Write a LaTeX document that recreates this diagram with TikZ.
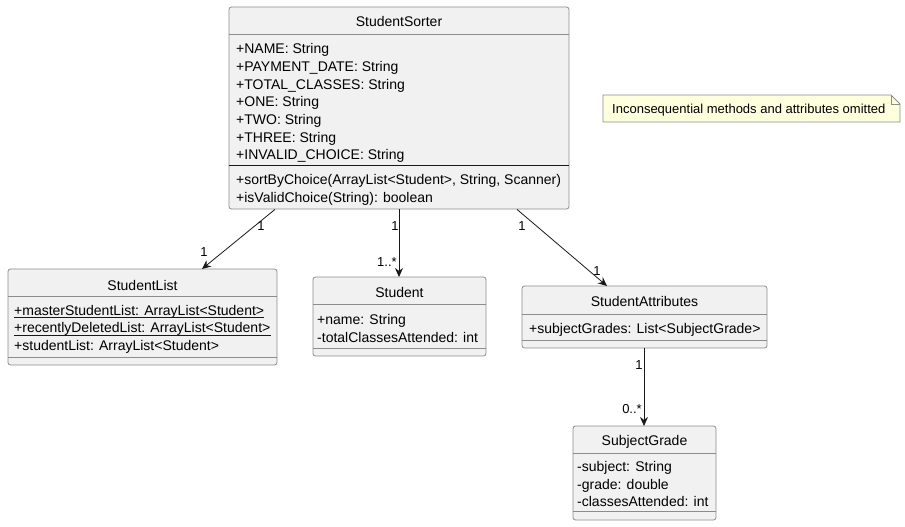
\documentclass[tikz,border=0pt]{standalone}
\usepackage{fontspec}
\setmainfont{Liberation Sans}
\usetikzlibrary{arrows.meta}
\definecolor{boxfill}{HTML}{F1F1F1}
\definecolor{boxline}{HTML}{8C8C8C}
\definecolor{edge}{HTML}{181818}
\definecolor{notefill}{HTML}{FEFFDD}
\tikzset{
  box/.style={draw=boxline, fill=boxfill, rounded corners=2.5pt, line width=0.8pt},
  sep/.style={draw=boxline, line width=0.8pt},
  sepdark/.style={draw=edge, line width=0.9pt},
  txt/.style={anchor=base west, inner sep=0pt, font=\fontsize{14}{16}\selectfont},
  ttl/.style={anchor=base, inner sep=0pt, font=\fontsize{14}{16}\selectfont},
  lbl/.style={inner sep=0pt, font=\fontsize{13}{15}\selectfont},
  conn/.style={draw=edge, line width=0.8pt, -{Stealth[length=9pt,width=8pt,inset=3pt]}},
}
\begin{document}
\begin{tikzpicture}[x=1pt,y=-1pt]
\useasboundingbox (0,0) rectangle (905,527);
% ---- StudentSorter
\path[box] (229,7) rectangle (569,209);
\node[inner sep=0pt, minimum width=340pt, minimum height=202pt, anchor=north west] (sorter) at (229,7) {};
\draw[sep] (229,34) -- (569,34);
\draw[sepdark] (229,165) -- (569,165);
\node[ttl] (sorterT) at (399,26.5) {StudentSorter};
\node[txt] (s1) at (236,54) {+NAME: String};
\node[txt] (s2) at (236,71.6) {+PAYMENT\_DATE: String};
\node[txt] (s3) at (236,89.2) {+TOTAL\_CLASSES: String};
\node[txt] (s4) at (236,106.8) {+ONE: String};
\node[txt] (s5) at (236,124.4) {+TWO: String};
\node[txt] (s6) at (236,142) {+THREE: String};
\node[txt] (s7) at (236,159.6) {+INVALID\_CHOICE: String};
\node[txt] (s8) at (236,184.5) {+sortByChoice(ArrayList<Student>, String, Scanner)};
\node[txt] (s9) at (236,202) {+isValidChoice(String): boolean};
% ---- StudentList
\path[box] (8,269) rectangle (277,365);
\node[inner sep=0pt, minimum width=269pt, minimum height=96pt, anchor=north west] (list) at (8,269) {};
\draw[sep] (8,296) -- (277,296);
\draw[sep] (8,357) -- (277,357);
\node[ttl] (listT) at (142.5,290) {StudentList};
\node[txt] (l1) at (14,315) {+masterStudentList: ArrayList<Student>};
\node[txt] (l2) at (14,332.7) {+recentlyDeletedList: ArrayList<Student>};
\node[txt] (l3) at (14,350) {+studentList: ArrayList<Student>};
\draw[draw=edge, line width=0.7pt] ([yshift=-2.3pt]l1.base west) -- ([yshift=-2.3pt]l1.base east);
\draw[draw=edge, line width=0.7pt] ([yshift=-2.3pt]l2.base west) -- ([yshift=-2.3pt]l2.base east);
% ---- Student
\path[box] (313,277) rectangle (486,356);
\node[inner sep=0pt, minimum width=173pt, minimum height=79pt, anchor=north west] (student) at (313,277) {};
\draw[sep] (313,304) -- (486,304);
\draw[sep] (313,348) -- (486,348);
\node[ttl] (studentT) at (399.5,297.3) {Student};
\node[txt] (st1) at (317,324) {+name: String};
\node[txt] (st2) at (317,342.3) {-totalClassesAttended: int};
% ---- StudentAttributes
\path[box] (522,286) rectangle (767,348);
\node[inner sep=0pt, minimum width=245pt, minimum height=62pt, anchor=north west] (attrs) at (522,286) {};
\draw[sep] (522,314) -- (767,314);
\draw[sep] (522,340) -- (767,340);
\node[ttl] (attrsT) at (644.5,306.7) {StudentAttributes};
\node[txt] (a1) at (529,333.3) {+subjectGrades: List<SubjectGrade>};
% ---- SubjectGrade
\path[box] (573,426) rectangle (716,520);
\node[inner sep=0pt, minimum width=143pt, minimum height=94pt, anchor=north west] (grade) at (573,426) {};
\draw[sep] (573,453) -- (716,453);
\draw[sep] (573,511) -- (716,511);
\node[ttl] (gradeT) at (644.5,445) {SubjectGrade};
\node[txt] (g1) at (577,471.7) {-subject: String};
\node[txt] (g2) at (577,489) {-grade: double};
\node[txt] (g3) at (577,506.7) {-classesAttended: int};
% ---- Note
\draw[draw=boxline, fill=notefill, line width=0.8pt] (603,95) -- (891,95) -- (900,104) -- (900,122) -- (603,122) -- cycle;
\draw[draw=boxline, line width=0.8pt] (891,95) -- (891,104) -- (900,104);
\node[anchor=base west, inner sep=0pt, font=\fontsize{13}{15}\selectfont] (note) at (612,113.5) {Inconsequential methods and attributes omitted};
% ---- Connectors
\draw[conn] ([xshift=46pt]sorter.south west) -- ([xshift=194pt]list.north west);
\draw[conn] ([xshift=170pt]sorter.south west) -- ([xshift=86pt]student.north west);
\draw[conn] ([xshift=288pt]sorter.south west) -- ([xshift=85pt]attrs.north west);
\draw[conn] ([xshift=122pt]attrs.south west) -- ([xshift=71pt]grade.north west);
% ---- Multiplicities
\node[lbl] (m1) at (261,226) {1};
\node[lbl] (m2) at (204,252) {1};
\node[lbl] (m3) at (395,226) {1};
\node[lbl] (m4) at (387,262) {1..*};
\node[lbl] (m5) at (522,226) {1};
\node[lbl] (m6) at (597,271) {1};
\node[lbl] (m7) at (639,365) {1};
\node[lbl] (m8) at (632,409) {0..*};
\end{tikzpicture}
\end{document}
